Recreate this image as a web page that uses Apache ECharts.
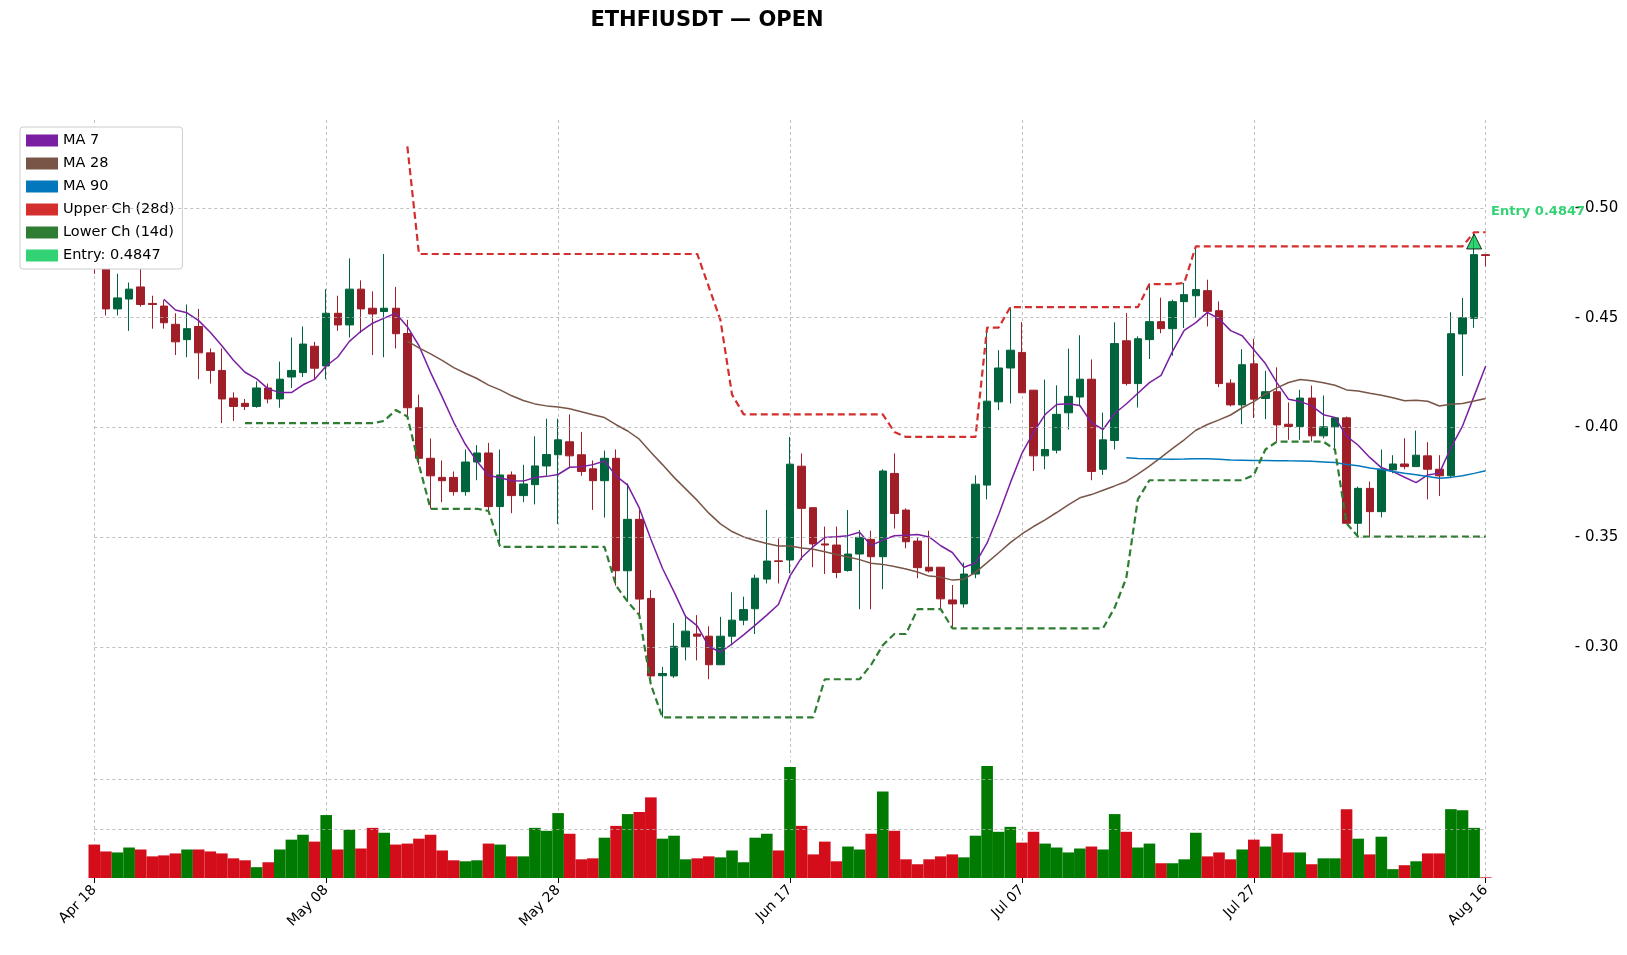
<!DOCTYPE html>
<html><head><meta charset="utf-8">
<script src="https://cdn.jsdelivr.net/npm/echarts@6/dist/echarts.min.js"></script>
<style>html,body{margin:0;padding:0;background:#fff}#c{width:1627px;height:955px}</style>
</head><body><div id="c"></div>
<script>
const startDate = '2025-04-18';
const opens = [.513,.4756,.454,.4585,.464,.4565,.4553,.447,.440,.446,.434,.426,.4134,.411,.4096,.418,.413,.423,.425,.437,
.428,.452,.4467,.463,.4543,.4528,.4543,.4428,.409,.386,.3773,.3773,.3708,.3843,.3884,.364,.3784,.369,.374,.3825,
.3876,.3935,.3876,.3812,.3758,.386,.3348,.3582,.3222,.2870,.2869,.3001,.306,.305,.292,.305,.3123,.3175,.331,.3393,
.3397,.3824,.3635,.347,.3465,.3349,.3424,.3491,.3412,.3791,.3624,.3483,.3364,.3364,.3215,.3197,.3333,.3738,.4117,.4271,
.4342,.417,.3871,.3897,.4067,.4139,.422,.381,.3941,.4395,.420,.440,.4482,.445,.4573,.460,.4623,.4532,.4202,.4103,
.429,.4132,.4163,.4015,.4005,.4134,.3962,.4003,.4044,.3564,.3723,.3617,.3807,.3834,.3822,.3871,.381,.378,.4426,.4497,.4787];
const closes = [.473,.454,.459,.463,.456,.456,.4477,.439,.445,.434,.426,.413,.4096,.4096,.418,.413,.422,.426,.438,.427,
.452,.4467,.463,.454,.4517,.4543,.4427,.409,.386,.378,.3758,.3708,.3843,.3884,.364,.3784,.369,.3743,.3825,.3877,
.3944,.3871,.380,.3758,.386,.3348,.3582,.3219,.2869,.288,.3004,.3073,.305,.292,.305,.3123,.3171,.3314,.3392,.339,
.3833,.3632,.347,.3465,.334,.3424,.350,.3412,.3802,.3609,.348,.3362,.3347,.322,.3197,.3333,.3742,.412,.4271,.4352,
.4158,.3871,.390,.406,.4142,.422,.380,.3944,.4382,.420,.4404,.4482,.445,.4573,.4605,.4628,.4529,.420,.4103,.4286,
.4129,.4163,.4012,.4005,.4134,.3962,.4003,.4044,.3564,.3723,.3617,.381,.3834,.3822,.3874,.381,.378,.4427,.450,.4787,.4783];
const highs = [.528,.477,.470,.466,.477,.460,.458,.452,.456,.454,.436,.436,.416,.413,.421,.420,.430,.441,.446,.439,
.463,.460,.477,.467,.462,.479,.464,.449,.415,.395,.385,.380,.390,.392,.393,.390,.380,.383,.396,.404,
.404,.406,.398,.385,.3895,.390,.3746,.3625,.326,.291,.311,.3146,.3146,.3095,.3138,.325,.323,.333,.3625,.3495,
.3957,.3882,.3635,.3549,.3549,.3624,.3533,.353,.381,.3882,.3632,.350,.353,.3364,.3283,.3385,.3782,.4455,.4352,.4548,
.448,.417,.4218,.4192,.4359,.442,.431,.4068,.4479,.4521,.4415,.4653,.4591,.4582,.4658,.4825,.4673,.4574,.422,.4357,
.4404,.4258,.4274,.4114,.4172,.4191,.4146,.4044,.405,.3731,.3754,.390,.3874,.3951,.3986,.3933,.3874,.4525,.459,.4889,.4787];
const lows = [.470,.451,.451,.444,.455,.445,.445,.433,.432,.422,.420,.402,.403,.408,.409,.411,.409,.418,.423,.422,
.422,.444,.441,.443,.433,.432,.436,.405,.383,.363,.366,.369,.369,.376,.362,.3457,.361,.366,.365,.378,
.356,.382,.378,.3625,.359,.328,.3207,.3146,.283,.268,.286,.294,.294,.2854,.292,.3009,.310,.306,.329,.329,
.3336,.3397,.3364,.3333,.3314,.3344,.3173,.3173,.3264,.354,.345,.3314,.334,.3177,.3086,.318,.3314,.3673,.4079,.4109,
.4158,.3802,.381,.3882,.3991,.410,.376,.3784,.390,.4191,.4091,.4312,.4429,.4327,.4453,.450,.446,.4184,.4096,.4015,
.4043,.4038,.3936,.3944,.3944,.3936,.3951,.390,.3564,.3503,.3503,.3591,.3792,.381,.3822,.3673,.3688,.377,.4235,.4454,.4733];
const volumes = [102,81,78,93,87,66,69,75,87,87,81,75,60,54,33,48,87,117,132,111,
192,87,147,90,153,138,102,105,120,132,84,54,51,54,105,102,66,66,153,144,
198,135,57,60,123,159,195,201,246,120,129,57,60,66,63,84,48,123,135,84,
339,159,72,111,51,96,87,135,264,144,57,42,57,66,72,63,129,342,141,156,
108,141,105,93,78,90,96,87,195,141,93,105,45,45,57,138,66,78,57,87,
117,96,135,78,78,42,60,60,210,120,72,126,27,39,51,75,75,210,207,153,2];
const priceTicks = [0.30,0.35,0.40,0.45,0.50];
const volumeTicks = [150,300];
const entryIndex = 119, entryPrice = 0.4847;
const tickEvery = 20;

const MON=['Jan','Feb','Mar','Apr','May','Jun','Jul','Aug','Sep','Oct','Nov','Dec'];
const cats=[]; {const d0=new Date(startDate+'T00:00:00Z'); for(let i=0;i<closes.length;i++){const d=new Date(d0.getTime()+i*86400000); cats.push(MON[d.getUTCMonth()]+' '+String(d.getUTCDate()).padStart(2,'0'));}}
function ma(arr,n){return arr.map((v,i)=>i<n-1?'-':+(arr.slice(i-n+1,i+1).reduce((a,b)=>a+b,0)/n).toFixed(5));}
function rmax(arr,n){return arr.map((v,i)=>i<n-1?'-':Math.max(...arr.slice(i-n+1,i+1)));}
function rmin(arr,n){return arr.map((v,i)=>i<n-1?'-':Math.min(...arr.slice(i-n+1,i+1)));}
const kdata=opens.map((o,i)=>[o,closes[i],lows[i],highs[i]]);
const UP='#00643c', DN='#a01e28';
const volData=volumes.map((v,i)=>({value:v,itemStyle:{color:closes[i]>=opens[i]?'#007a00':'#d40d1a'}}));
const FONT='DejaVu Sans';
const GRIDLINE={color:'#b0b0b0',type:[3,3],width:0.8};
const splitX={show:true,interval:(i)=>i%tickEvery===0,lineStyle:GRIDLINE};
function hLines(vals){return {silent:true,symbol:'none',label:{show:false},lineStyle:GRIDLINE,emphasis:{disabled:true},data:vals.map(v=>({yAxis:v}))};}
const chart=echarts.init(document.getElementById('c'));
chart.setOption({
  animation:false,
  textStyle:{fontFamily:FONT},
  graphic:[{type:'text',x:707,y:10,style:{text:'ETHFIUSDT — OPEN',font:'bold 21px "DejaVu Sans"',fill:'#000',textAlign:'center'}}],
  legend:{orient:'vertical',left:20,top:127,itemWidth:32,itemHeight:12,itemGap:8,padding:[6,8,6,6],
    backgroundColor:'#fff',borderColor:'#ccc',borderWidth:1,borderRadius:3,
    textStyle:{fontSize:14.5,color:'#000',fontFamily:FONT},
    data:[{name:'MA 7',icon:'rect'},{name:'MA 28',icon:'rect'},{name:'MA 90',icon:'rect'},{name:'Upper Ch (28d)',icon:'rect'},{name:'Lower Ch (14d)',icon:'rect'},{name:'Entry: 0.4847',icon:'rect',itemStyle:{borderWidth:0,color:'#00c853'}}]},
  grid:[{left:94.3,right:141.3,top:120,height:637},{left:94.3,right:141.3,top:760,height:118}],
  xAxis:[
    {type:'category',gridIndex:0,data:cats,boundaryGap:false,axisLine:{show:false},axisTick:{show:false},axisLabel:{show:false},splitLine:splitX},
    {type:'category',gridIndex:1,data:cats,boundaryGap:false,axisLine:{show:false},
      axisTick:{show:true,interval:(i)=>i%tickEvery===0,length:5,lineStyle:{color:'#000'}},
      axisLabel:{interval:(i)=>i%tickEvery===0,rotate:45,fontSize:14,color:'#000',margin:10,fontFamily:FONT},splitLine:splitX}
  ],
  yAxis:[
    {type:'value',gridIndex:0,position:'right',offset:85,min:0.25,max:0.54,interval:0.05,
      axisLine:{show:false},axisTick:{show:false},
      axisLabel:{fontSize:15,color:'#000',margin:4,showMinLabel:false,showMaxLabel:false,formatter:v=>'- '+v.toFixed(2),fontFamily:FONT},
      splitLine:{show:false}},
    {type:'value',gridIndex:1,position:'right',offset:85,min:0,max:360,
      axisLine:{show:false},axisTick:{show:false},axisLabel:{show:false},splitLine:{show:false}}
  ],
  series:[
    {type:'candlestick',name:'OHLC',xAxisIndex:0,yAxisIndex:0,data:kdata,barWidth:8,clip:false,
      itemStyle:{color:UP,color0:DN,borderColor:UP,borderColor0:DN,borderWidth:1},markLine:hLines(priceTicks)},
    {type:'line',name:'MA 7',data:ma(closes,7),showSymbol:false,symbol:'none',color:'#7b1fa2',lineStyle:{width:1.5}},
    {type:'line',name:'MA 28',data:ma(closes,28),showSymbol:false,symbol:'none',color:'#795548',lineStyle:{width:1.5}},
    {type:'line',name:'MA 90',data:ma(closes,90),showSymbol:false,symbol:'none',color:'#0277bd',lineStyle:{width:1.5}},
    {type:'line',name:'Upper Ch (28d)',data:rmax(highs,28),showSymbol:false,symbol:'none',color:'#d32f2f',lineStyle:{width:2.2,type:[7,4]}},
    {type:'line',name:'Lower Ch (14d)',data:rmin(lows,14),showSymbol:false,symbol:'none',color:'#2e7d32',lineStyle:{width:2.2,type:[7,4]}},
    {type:'scatter',name:'Entry: 0.4847',data:[[entryIndex,entryPrice]],symbol:'triangle',symbolSize:15,color:'#00c853',
      itemStyle:{color:'#00c853',borderColor:'#000',borderWidth:1},z:10,
      label:{show:true,position:'right',offset:[4,-30],formatter:'Entry 0.4847',color:'#00c853',fontWeight:'bold',fontSize:13,fontFamily:FONT}},
    {type:'bar',name:'Volume',xAxisIndex:1,yAxisIndex:1,data:volData,barWidth:11.6,barCategoryGap:0,markLine:hLines(volumeTicks)}
  ]
});
</script></body></html>
